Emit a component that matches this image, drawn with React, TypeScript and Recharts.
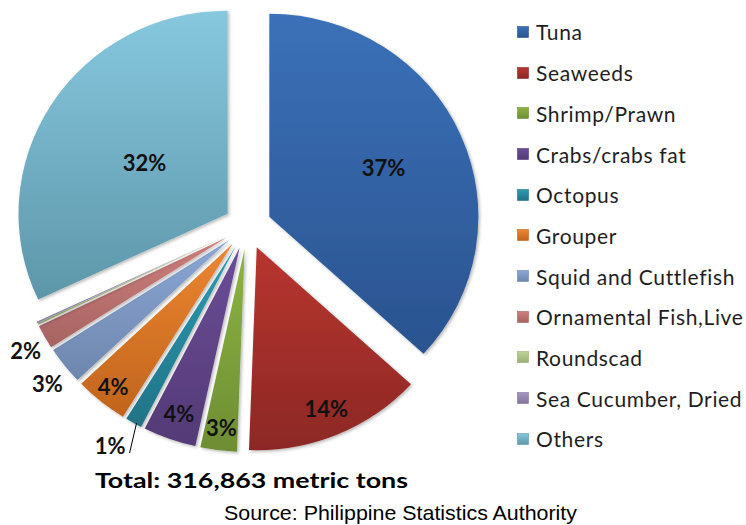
import React from "react";
import { PieChart, Pie, Cell, Legend, Sector } from "recharts";

const categories = [
  "Tuna",
  "Seaweeds",
  "Shrimp/Prawn",
  "Crabs/crabs fat",
  "Octopus",
  "Grouper",
  "Squid and Cuttlefish",
  "Ornamental Fish,Live",
  "Roundscad",
  "Sea Cucumber, Dried",
  "Others",
];
const tons = [116600, 43700, 8900, 13000, 4100, 13000, 9500, 6000, 480, 320, 101263];
const topColors = [
  "#3B71B9", "#B8352F", "#8DB443", "#6B4D97", "#2C9BB4", "#EC8631",
  "#8BA7D5", "#CF807E", "#BDD495", "#A695C2", "#87C8DF",
];
const bottomColors = [
  "#2A538F", "#8C2825", "#6E8D33", "#533A76", "#217386", "#C0641C",
  "#6D86AD", "#A66361", "#99AD75", "#82759B", "#5D96A9",
];
const totalLabel = "Total: 316,863 metric tons";
const sourceLabel = "Source: Philippine Statistics Authority";

const data = categories.map((name, i) => ({ name, value: tons[i] }));

const CX = 247.6;
const CY = 226;
const R = 203;
const X_STRETCH = 1.03;
const EXPLODE = 23;
const RAD = Math.PI / 180;

// label placement (distance from pie center, as fraction of outer radius)
const insideLabelFactor: Record<string, number> = {
  Tuna: 0.71,
  Others: 0.585,
  Seaweeds: 0.975,
  "Shrimp/Prawn": 1.0,
  "Crabs/crabs fat": 0.98,
  Grouper: 1.02,
};
const outsideLabelFactor = 1.255;
const leaderLabel = "Octopus";

const unit = (midAngle: number) => [Math.cos(-midAngle * RAD), Math.sin(-midAngle * RAD)];

const ExplodedSector = (props: any) => {
  const { cx, cy, midAngle, innerRadius, outerRadius, startAngle, endAngle, fill } = props;
  const [ux, uy] = unit(midAngle);
  return (
    <g transform={`translate(${cx},0) scale(${X_STRETCH},1) translate(${-cx},0)`}>
      <Sector
        cx={cx + ux * EXPLODE}
        cy={cy + uy * EXPLODE}
        innerRadius={innerRadius}
        outerRadius={outerRadius}
        startAngle={startAngle}
        endAngle={endAngle}
        fill={fill}
        stroke="none"
        filter="url(#sliceShadow)"
      />
    </g>
  );
};

const renderLabel = (props: any) => {
  const { cx, cy, midAngle, outerRadius, percent } = props;
  const name = props.name ?? props.payload?.name;
  if (percent < 0.005) return null;
  const text = `${Math.round(percent * 100)}%`;
  const [ux, uy] = unit(midAngle);
  const style = {
    fontFamily: "Lato",
    fontWeight: 700,
    fontSize: 22,
    fill: "#111",
  };
  if (name === leaderLabel) {
    const rr = outerRadius + EXPLODE;
    const sx = cx + ux * rr * X_STRETCH + 3;
    const sy = cy + uy * rr;
    const ex = sx - 7;
    const ey = sy + 30;
    return (
      <g>
        <line x1={sx} y1={sy} x2={ex} y2={ey} stroke="#000" strokeWidth={1} />
        <text x={ex - 4} y={ey - 8} textAnchor="end" dominantBaseline="central" style={style}>
          {text}
        </text>
      </g>
    );
  }
  const inside = insideLabelFactor[name];
  const f = inside ?? outsideLabelFactor;
  const x = cx + ux * outerRadius * f * (inside ? X_STRETCH : 1);
  const y = cy + uy * outerRadius * f;
  return (
    <text x={x} y={y} textAnchor="middle" dominantBaseline="central" style={style}>
      {text}
    </text>
  );
};

const LegendContent = () => (
  <div
    style={{
      fontFamily: "Lato",
      fontSize: 21,
      letterSpacing: 0.65,
      color: "#1e1e1e",
      whiteSpace: "nowrap",
    }}
  >
    {categories.map((c, i) => (
      <div key={c} style={{ height: 40.7, display: "flex", alignItems: "center" }}>
        <svg width={12} height={12} style={{ marginRight: 7, display: "block" }}>
          <defs>
            <linearGradient id={`lg${i}`} x1="0" y1="0" x2="0" y2="1">
              <stop offset="0%" stopColor={topColors[i]} />
              <stop offset="100%" stopColor={bottomColors[i]} />
            </linearGradient>
          </defs>
          <rect x={0.5} y={0.5} width={11} height={11} fill={`url(#lg${i})`} stroke={bottomColors[i]} strokeWidth={0.6} />
        </svg>
        <span>{c}</span>
      </div>
    ))}
  </div>
);

export default function App() {
  return (
    <div style={{ position: "absolute", left: 0, top: 0, width: 746, height: 525, background: "#fff" }}>
      <PieChart width={746} height={525} margin={{ top: 0, right: 0, bottom: 0, left: 0 }}>
        <defs>
          {categories.map((c, i) => (
            <linearGradient key={c} id={`g${i}`} x1="0" y1="0" x2="0" y2="1">
              <stop offset="0%" stopColor={topColors[i]} />
              <stop offset="100%" stopColor={bottomColors[i]} />
            </linearGradient>
          ))}
          <filter id="sliceShadow" x="-20%" y="-20%" width="140%" height="140%">
            <feDropShadow dx={1.5} dy={1.5} stdDeviation={1.8} floodColor="#000" floodOpacity={0.28} />
          </filter>
        </defs>
        <Pie
          data={data}
          dataKey="value"
          nameKey="name"
          cx={CX}
          cy={CY}
          outerRadius={R}
          innerRadius={0}
          startAngle={90}
          endAngle={-270}
          stroke="none"
          shape={ExplodedSector}
          label={renderLabel}
          labelLine={false}
          isAnimationActive={false}
        >
          {data.map((d, i) => (
            <Cell key={d.name} fill={`url(#g${i})`} />
          ))}
        </Pie>
        <Legend
          layout="vertical"
          align="right"
          verticalAlign="top"
          content={LegendContent}
          wrapperStyle={{ left: 517, top: 11.6, right: "auto", width: 229 }}
        />
        <text
          x={95}
          y={488}
          textLength={313}
          lengthAdjust="spacingAndGlyphs"
          style={{ fontFamily: "Lato", fontWeight: 700, fontSize: 21.5, fill: "#000" }}
        >
          {totalLabel}
        </text>
        <text
          x={224}
          y={520}
          textLength={353}
          lengthAdjust="spacingAndGlyphs"
          style={{ fontFamily: "'Liberation Sans', Arial", fontSize: 21, fill: "#000" }}
        >
          {sourceLabel}
        </text>
      </PieChart>
    </div>
  );
}
